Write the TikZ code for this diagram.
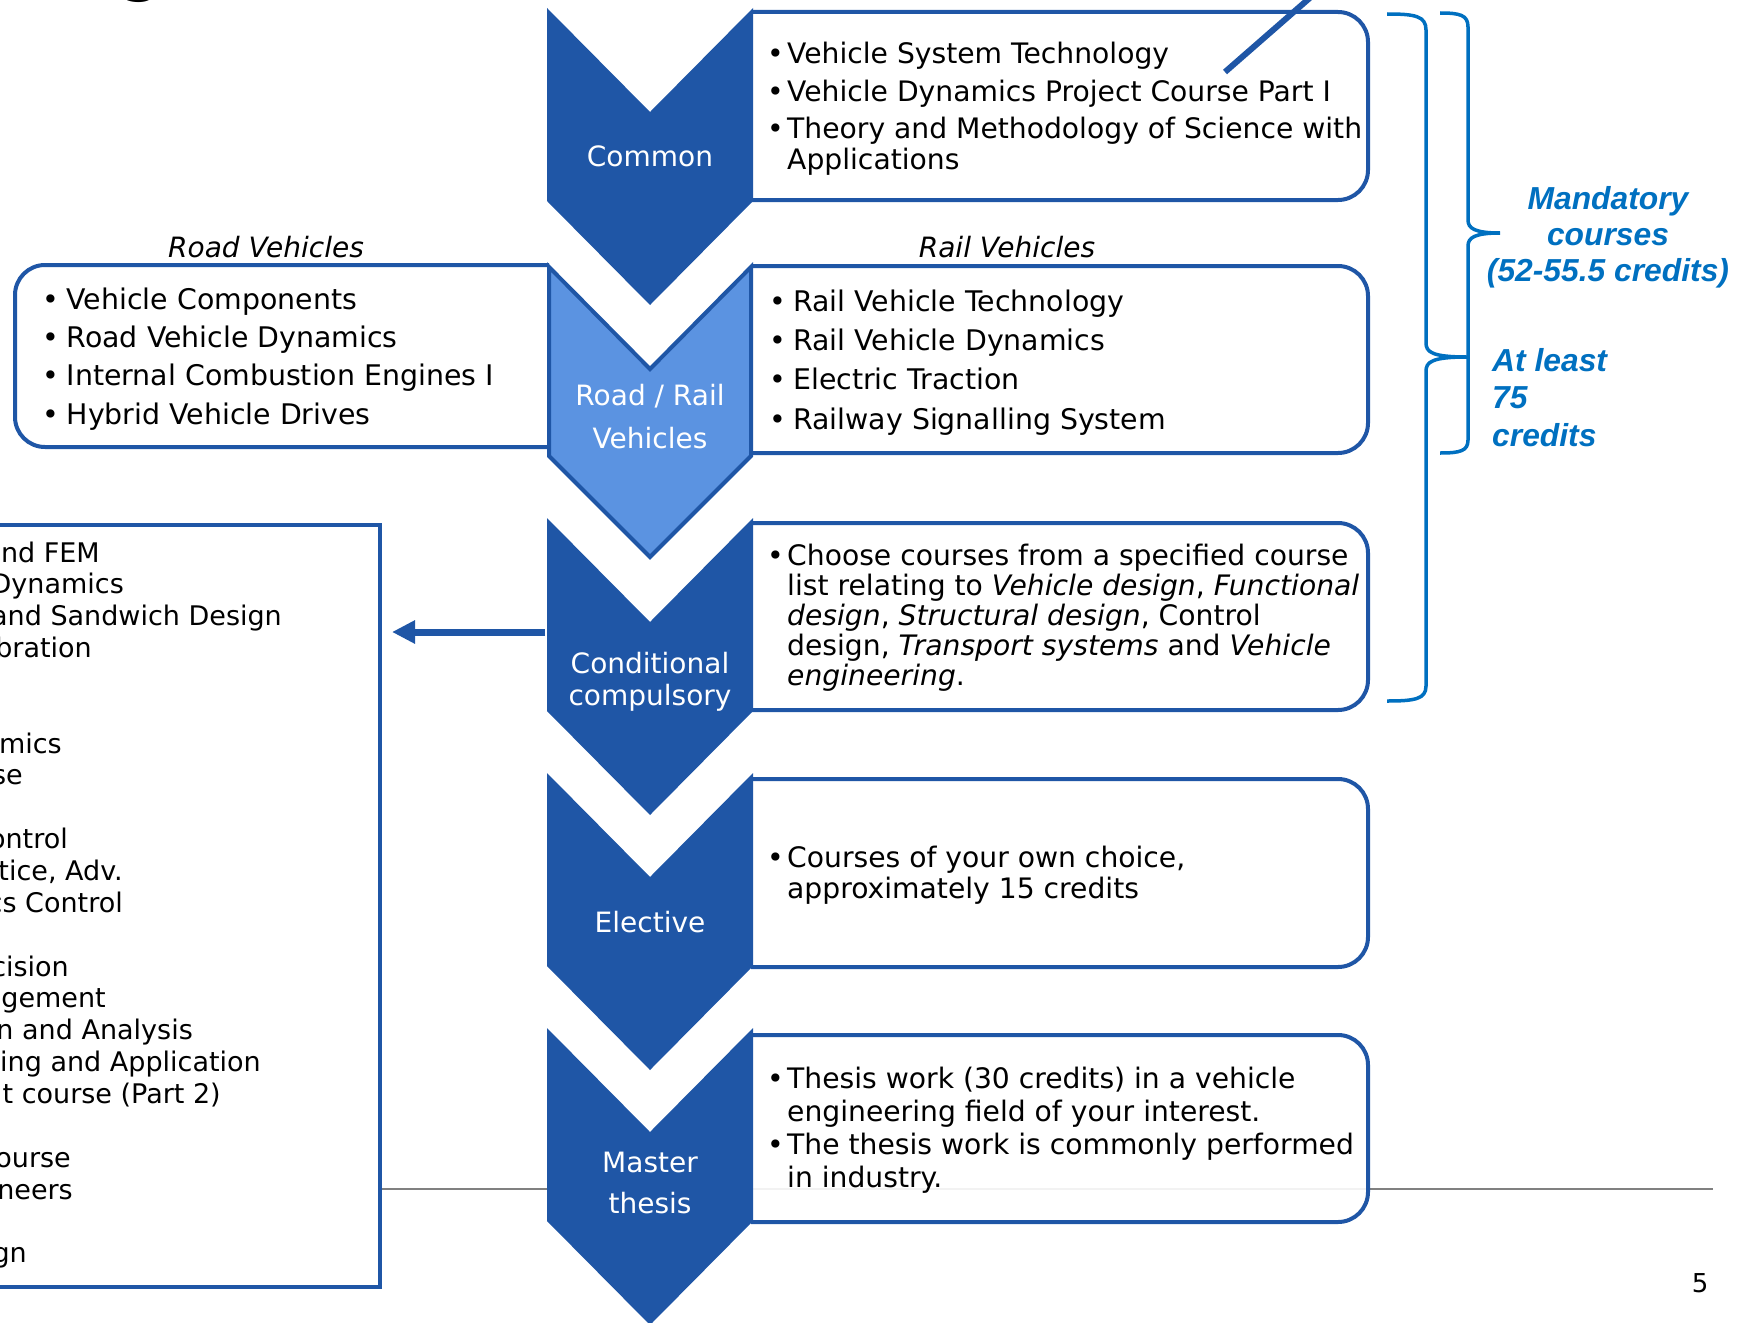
\documentclass[tikz,border=0pt]{standalone}
\usepackage{fontspec}
\setmainfont{DejaVu Sans}
\newfontfamily\notefont{Liberation Sans}
\usetikzlibrary{arrows.meta,positioning,calc}
\definecolor{Navy}{HTML}{1F56A6}
\definecolor{SkyStep}{HTML}{5B93E1}
\definecolor{BraceBlue}{HTML}{0070C0}
\definecolor{RuleGray}{HTML}{808080}
\newcommand{\bul}[1][20pt]{\makebox[#1][l]{\textbullet}}
\newcommand{\ind}[1][20pt]{\hspace*{#1}}

\begin{document}
\begin{tikzpicture}[
  x=1pt, y=-1pt,
  chev/.style={fill=Navy},
  chevlight/.style={fill=SkyStep, draw=Navy, line width=4pt, line join=miter},
  rbox/.style={draw=Navy, line width=4pt, fill=white, fill opacity=0.9, rounded corners=30pt},
  steplab/.style={text=white, align=center, inner sep=0pt, anchor=base, font=\fontsize{28}{41}\selectfont},
  txt/.style={align=left, inner sep=0pt, anchor=base west},
  ttl/.style={inner sep=0pt, anchor=base, font=\fontsize{28}{31}\selectfont\itshape},
  frag/.style={inner sep=0pt, anchor=base east, font=\fontsize{27}{30}\selectfont},
  note/.style={inner sep=0pt, text=BraceBlue, font=\fontsize{31.8}{36}\selectfont\notefont\bfseries\itshape},
  brc/.style={draw=BraceBlue, line width=3.5pt},
  arr/.style={-{Triangle[length=23pt,width=22pt]}, Navy, line width=7pt}
]
\useasboundingbox (0,0) rectangle (1744,1322);
\clip (0,0) rectangle (1744,1322);

% slide rule and page number
\draw[RuleGray, line width=2pt] (380,1189) -- (1713,1189);
\node[inner sep=0pt, anchor=base, font=\fontsize{26}{30}\selectfont] (pgno) at (1700,1292) {5};
\node[inner sep=0pt, anchor=base, font=\fontsize{56}{60}\selectfont\bfseries] (ttlg) at (142,-9) {g};

% elective list (cut off at the left)
\node[draw=Navy, line width=4pt, minimum width=392pt, minimum height=762pt, inner sep=0pt] (elist) at (184,906) {};
\foreach \n/\xe/\t in {0/100/and FEM, 1/124/Dynamics, 2/282/and Sandwich Design, 3/92/bration,
    6/62/amics, 7/23/se, 9/68/ontrol, 10/123/{tice, Adv.}, 11/123/cs Control,
    13/69/cision, 14/106/agement, 15/193/n and Analysis, 16/261/ling and Application,
    17/221/t course (Part 2), 19/71/ourse, 20/73/neers, 22/27/gn}
  \node[frag] (frag\n) at (\xe,562+31.85*\n) {\t};

% course boxes
\path[rbox] (549,265) -- (15,265) -- (15,447) -- (549,447);
\path[rbox] (751,12) -- (1368,12) -- (1368,200) -- (751,200);
\path[rbox] (751,266) -- (1368,266) -- (1368,453) -- (751,453);
\path[rbox] (751,523) -- (1368,523) -- (1368,710) -- (751,710);
\path[rbox] (751,779) -- (1368,779) -- (1368,967) -- (751,967);
\path[rbox] (751,1035) -- (1368,1035) -- (1368,1222) -- (751,1222);

% chevrons
\fill[chev] (547,8) -- (650,112) -- (753,8) -- (753,201) -- (650,305) -- (547,201) -- cycle;
\filldraw[chevlight] (549,267) -- (650,369) -- (751,267) -- (751,456) -- (650,557) -- (549,456) -- cycle;
\fill[chev] (547,518) -- (650,622) -- (753,518) -- (753,711) -- (650,815) -- (547,711) -- cycle;
\fill[chev] (547,773) -- (650,877) -- (753,773) -- (753,966) -- (650,1070) -- (547,966) -- cycle;
\fill[chev] (547,1028) -- (650,1132) -- (753,1028) -- (753,1221) -- (650,1325) -- (547,1221) -- cycle;

% (base = last line)
\node[steplab] (common) at (650,166) {Common};
\node[steplab, font=\fontsize{28}{43}\selectfont] (roadrail) at (650,448) {Road / Rail\\Vehicles};
\node[steplab, font=\fontsize{28}{32}\selectfont] (cond) at (650,705) {Conditional\\compulsory};
\node[steplab] (elect) at (650,932) {Elective};
\node[steplab] (thesis) at (650,1213) {Master\\thesis};

% box texts
\node[ttl] (roadttl) at (266,257) {Road Vehicles};
\node[ttl] (railttl) at (1007,257) {Rail Vehicles};

\node[txt, font=\fontsize{28.2}{31}\selectfont] (tcommon) at (767,169)
  {\bul Vehicle System Technology\\[7pt]
   \bul Vehicle Dynamics Project Course Part I\\[6pt]
   \bul Theory and Methodology of Science with\\
   \ind Applications};
\node[txt, font=\fontsize{28.4}{38.3}\selectfont] (troad) at (42.5,424)
  {\bul[24pt]Vehicle Components\\
   \bul[24pt]Road Vehicle Dynamics\\
   \bul[24pt]Internal Combustion Engines I\\
   \bul[24pt]Hybrid Vehicle Drives};
\node[txt, font=\fontsize{28.4}{39.3}\selectfont] (trail) at (769,429)
  {\bul[24pt]Rail Vehicle Technology\\
   \bul[24pt]Rail Vehicle Dynamics\\
   \bul[24pt]Electric Traction\\
   \bul[24pt]Railway Signalling System};
\node[txt, font=\fontsize{28.2}{30}\selectfont] (tcond) at (767,685)
  {\bul Choose courses from a specified course\\
   \ind list relating to \textit{Vehicle design}, \textit{Functional}\\
   \ind \textit{design}, \textit{Structural design}, Control\\
   \ind design, \textit{Transport systems} and \textit{Vehicle}\\
   \ind \textit{engineering}.};
\node[txt, font=\fontsize{28.2}{31}\selectfont] (telect) at (767,898)
  {\bul Courses of your own choice,\\
   \ind approximately 15 credits};
\node[txt, font=\fontsize{28.2}{32.7}\selectfont] (tthesis) at (767,1187)
  {\bul Thesis work (30 credits) in a vehicle\\
   \ind engineering field of your interest.\\
   \bul The thesis work is commonly performed\\
   \ind in industry.};

% pointer line
\draw[Navy, line width=6pt] (1225,72) -- (1320,-11);

% arrow to the elective list
\coordinate (condW) at (545,632);
\draw[arr, shorten >=10pt] (condW) -- (condW -| elist.east);

% braces
\draw[brc] (1387,14) .. controls (1415,14) and (1426,16) .. (1426,30) -- (1426,343)
  .. controls (1426,352) and (1432,357) .. (1467,357)
  .. controls (1432,357) and (1426,362) .. (1426,371) -- (1426,686)
  .. controls (1426,699) and (1415,701) .. (1387,701);
\draw[brc] (1440,13) .. controls (1460,13) and (1468,15) .. (1468,27) -- (1468,220)
  .. controls (1468,228) and (1474,233) .. (1500,233)
  .. controls (1474,233) and (1468,238) .. (1468,246) -- (1468,440)
  .. controls (1468,451) and (1460,453) .. (1440,453);

\node[note, align=center, anchor=base] (mand) at (1608,281) {Mandatory\\courses\\(52-55.5 credits)};
\node[note, align=left, anchor=base west, font=\fontsize{31.8}{37.5}\selectfont\notefont\bfseries\itshape] (least) at (1492,446) {At least\\75\\credits};
\end{tikzpicture}
\end{document}
